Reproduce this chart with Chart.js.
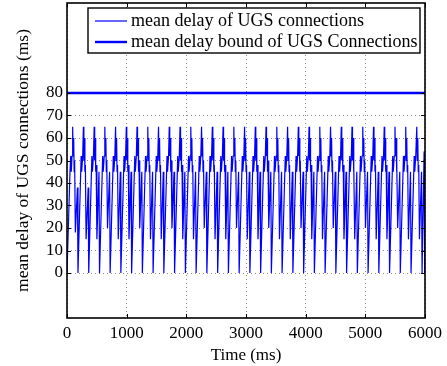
<!DOCTYPE html>
<html>
<head>
<meta charset="utf-8">
<script src="https://cdn.jsdelivr.net/npm/chart.js@4.4.0/dist/chart.umd.min.js"></script>
<style>
  html, body { margin: 0; padding: 0; background: #fff; }
  #wrap { width: 447px; height: 366px; }
</style>
</head>
<body>
<div id="wrap"><canvas id="chart" width="447" height="366"></canvas></div>
<script>
// Values
const seriesLabels = ['mean delay of UGS connections', 'mean delay bound of UGS Connections'];
const yTicks = [0, 10, 20, 30, 40, 50, 60, 70, 80];

// trace before the first peak
const leadTimes = [0, 50, 62, 72, 84];
const leadDelays = [0, 45, 52, 45, 52];

// each cycle starts at its 65 ms peak (times in ms)
const cycleStart = [95, 275, 456, 634, 814, 994, 1174, 1354, 1534, 1714, 1895, 2075,
  2255, 2436, 2616, 2796, 2976, 3156, 3336, 3516, 3697, 3877, 4057, 4237, 4417,
  4597, 4777, 4957, 5137, 5317, 5497, 5677, 5862];
const cycleOffset = [0, 8, 17, 25, 33, 45, 80, 89, 142, 151, 168];
const cycleDelays = [
  [65, 52, 60, 45, 50, 18, 38, 0, 52, 45, 52],
  [65, 50, 60, 45, 48, 15, 38, 0, 52, 45, 52],
  [65, 50, 60, 45, 48, 15, 45, 0, 52, 45, 52],
  [65, 52, 60, 45, 50, 20, 45, 0, 52, 45, 52],
  [65, 50, 60, 45, 48, 15, 45, 0, 52, 45, 52],
  [65, 50, 60, 45, 48, 15, 45, 0, 52, 45, 52],
  [65, 52, 60, 45, 50, 20, 45, 0, 52, 45, 52],
  [65, 50, 60, 45, 48, 15, 45, 0, 52, 45, 52],
  [65, 50, 60, 45, 48, 15, 45, 0, 52, 45, 52],
  [65, 52, 60, 45, 50, 20, 45, 0, 52, 45, 52],
  [65, 50, 60, 45, 48, 15, 45, 0, 52, 45, 52],
  [65, 50, 60, 45, 48, 15, 45, 0, 52, 45, 52],
  [65, 52, 60, 45, 50, 20, 45, 0, 52, 45, 52],
  [65, 50, 60, 45, 48, 15, 45, 0, 52, 45, 52],
  [65, 50, 60, 45, 48, 15, 45, 0, 52, 45, 52],
  [65, 52, 60, 45, 50, 20, 45, 0, 52, 45, 52],
  [65, 50, 60, 45, 48, 15, 45, 0, 52, 45, 52],
  [65, 50, 60, 45, 48, 15, 45, 0, 52, 45, 52],
  [65, 52, 60, 45, 50, 20, 45, 0, 52, 45, 52],
  [65, 50, 60, 45, 48, 15, 45, 0, 52, 45, 52],
  [65, 50, 60, 45, 48, 15, 45, 0, 52, 45, 52],
  [65, 52, 60, 45, 50, 20, 45, 0, 52, 45, 52],
  [65, 50, 60, 45, 48, 15, 45, 0, 52, 45, 52],
  [65, 50, 60, 45, 48, 15, 45, 0, 52, 45, 52],
  [65, 52, 60, 45, 50, 20, 45, 0, 52, 45, 52],
  [65, 50, 60, 45, 48, 15, 45, 0, 52, 45, 52],
  [65, 50, 60, 45, 48, 15, 45, 0, 52, 45, 52],
  [65, 52, 60, 45, 50, 20, 45, 0, 52, 45, 52],
  [65, 50, 60, 45, 48, 15, 45, 0, 52, 45, 52],
  [65, 50, 60, 45, 48, 15, 45, 0, 52, 45, 52],
  [65, 52, 60, 45, 50, 20, 45, 0, 52, 45, 52],
  [65, 50, 60, 45, 48, 15, 45, 0, 52, 45, 52],
  [65, 50, 60, 45, 48, 15, 45, 0]
];

// end of the trace
const tailTimes = [5985, 5993, 5997, 6000];
const tailDelays = [54, 50, 0, 25];

const boundTimes = [0, 6000];
const boundDelays = [80, 80];

const FONT = 'Liberation Serif, Times New Roman, serif';

// build point list for the delay trace
const delayPoints = [];
leadTimes.forEach((t, i) => delayPoints.push({ x: t, y: leadDelays[i] }));
cycleStart.forEach((t0, c) => {
  cycleDelays[c].forEach((v, i) => delayPoints.push({ x: t0 + cycleOffset[i], y: v }));
});
tailTimes.forEach((t, i) => delayPoints.push({ x: t, y: tailDelays[i] }));
const boundPoints = boundTimes.map((t, i) => ({ x: t, y: boundDelays[i] }));

// box round the plot with small inward ticks, matlab style
const framePlugin = {
  id: 'frame',
  afterDatasetsDraw(chart) {
    const { ctx, chartArea: a, scales } = chart;
    ctx.save();
    ctx.strokeStyle = '#000';
    ctx.lineWidth = 1;
    ctx.beginPath();
    scales.x.ticks.forEach(t => {
      const px = Math.round(scales.x.getPixelForValue(t.value)) + 0.5;
      ctx.moveTo(px, a.bottom); ctx.lineTo(px, a.bottom - 4);
      ctx.moveTo(px, a.top); ctx.lineTo(px, a.top + 4);
    });
    scales.y.ticks.forEach(t => {
      const py = Math.round(scales.y.getPixelForValue(t.value)) + 0.5;
      ctx.moveTo(a.left, py); ctx.lineTo(a.left + 4, py);
      ctx.moveTo(a.right, py); ctx.lineTo(a.right - 4, py);
    });
    ctx.stroke();
    ctx.lineWidth = 1.6;
    ctx.strokeRect(a.left, a.top, a.right - a.left, a.bottom - a.top);
    ctx.restore();
  }
};

// legend box in the top right of the plot
const legendPlugin = {
  id: 'boxLegend',
  afterDraw(chart) {
    const ctx = chart.ctx;
    const box = { x: 88, y: 8, w: 332, h: 45 };
    ctx.save();
    ctx.fillStyle = '#fff';
    ctx.fillRect(box.x, box.y, box.w, box.h);
    ctx.strokeStyle = '#000';
    ctx.lineWidth = 1.4;
    ctx.strokeRect(box.x, box.y, box.w, box.h);
    const rows = [21, 42];
    chart.data.datasets.forEach((ds, i) => {
      ctx.strokeStyle = ds.borderColor;
      ctx.lineWidth = ds.borderWidth;
      ctx.beginPath();
      ctx.moveTo(95, rows[i]);
      ctx.lineTo(127, rows[i]);
      ctx.stroke();
      ctx.fillStyle = '#000';
      ctx.font = '18px ' + FONT;
      ctx.textBaseline = 'middle';
      ctx.fillText(ds.label, 131, rows[i]);
    });
    ctx.restore();
  }
};

new Chart(document.getElementById('chart'), {
  type: 'line',
  data: {
    datasets: [
      {
        label: seriesLabels[0],
        data: delayPoints,
        borderColor: '#0000ff',
        borderWidth: 1.2,
        pointRadius: 0,
        tension: 0
      },
      {
        label: seriesLabels[1],
        data: boundPoints,
        borderColor: '#0000ff',
        borderWidth: 2.4,
        pointRadius: 0,
        tension: 0
      }
    ]
  },
  options: {
    responsive: false,
    animation: false,
    layout: { padding: { top: 3, right: 22, left: 0, bottom: 0 } },
    plugins: {
      legend: { display: false },
      tooltip: { enabled: false }
    },
    scales: {
      x: {
        type: 'linear',
        min: 0,
        max: 6000,
        ticks: {
          stepSize: 1000, color: '#000', padding: 5, maxRotation: 0,
          font: { family: FONT, size: 17 },
          callback: v => String(v)
        },
        grid: { color: '#8c8c8c', drawTicks: false },
        border: { display: false, dash: [1, 3] },
        title: { display: true, text: 'Time (ms)', color: '#000', font: { family: FONT, size: 17 }, padding: { top: 7, bottom: 0 } },
        afterFit(s) { s.height = 48; s.paddingLeft = 0; s.paddingRight = 0; }
      },
      y: {
        min: -20,
        max: 120,
        afterBuildTicks(s) { s.ticks = yTicks.map(v => ({ value: v })); },
        ticks: { color: '#000', padding: 4, font: { family: FONT, size: 17 } },
        grid: { color: '#8c8c8c', drawTicks: false },
        border: { display: false, dash: [1, 3] },
        title: { display: true, text: 'mean delay of UGS connections (ms)', color: '#000', font: { family: FONT, size: 17.5 }, padding: { top: 13, bottom: 0 } },
        afterFit(s) { s.width = 67; s.paddingTop = 0; s.paddingBottom = 0; }
      }
    }
  },
  plugins: [framePlugin, legendPlugin]
});
</script>
</body>
</html>
